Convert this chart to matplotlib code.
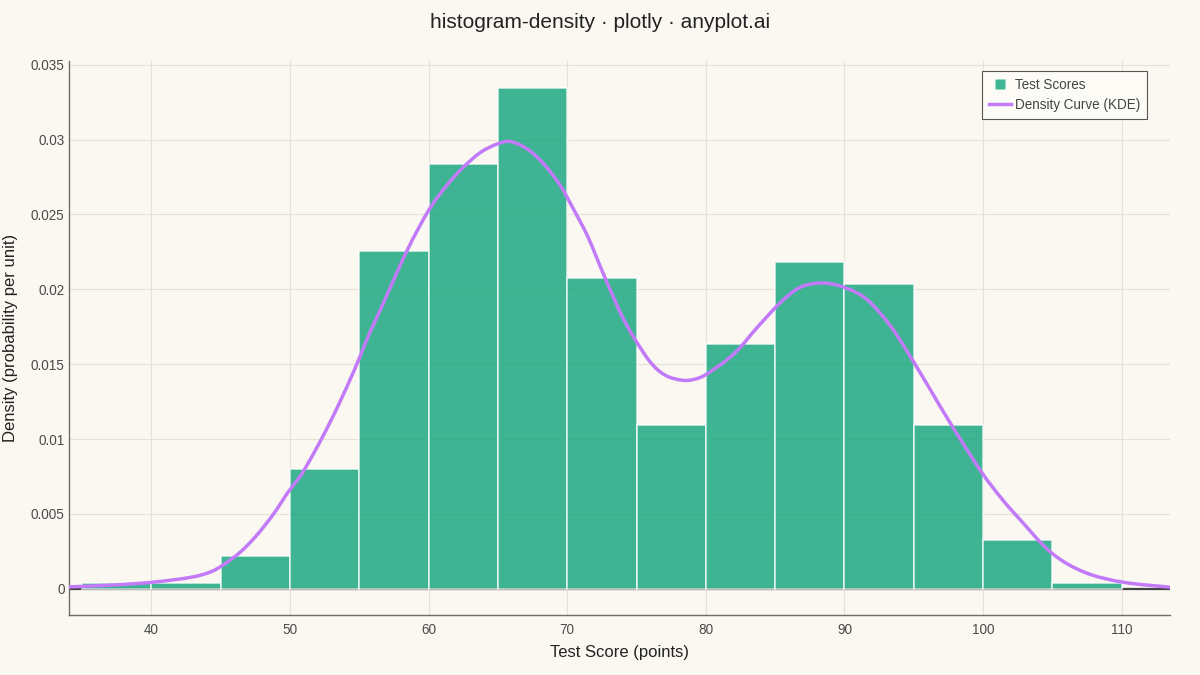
import matplotlib
matplotlib.use("Agg")
import matplotlib.pyplot as plt
from matplotlib.lines import Line2D
from matplotlib.path import Path
from matplotlib.patches import PathPatch
import numpy as np

# ---- data ----
bin_edges = [35, 40, 45, 50, 55, 60, 65, 70, 75, 80, 85, 90, 95, 100, 105, 110]
bin_counts = [1, 1, 6, 22, 62, 78, 92, 57, 30, 45, 60, 56, 30, 9, 1]
n_total = 550

kde_x = [34.03, 37.0, 40.0, 42.8, 44.24, 45.2, 46.41, 47.62, 48.82, 49.78, 50.5,
         50.98, 52.19, 53.4, 54.6, 55.2, 55.8, 56.5, 58.45, 60.0, 61.3, 62.5,
         63.75, 64.96, 65.9, 67.1, 68.3, 69.5, 70.5, 71.5, 72.6, 73.87, 74.83,
         76.03, 77.1, 78.3, 79.2, 80.13, 82.05, 83.74, 85.43, 86.87, 88.56, 90.25,
         91.69, 93.37, 95.06, 96.5, 97.95, 99.87, 101.32, 102.5, 104.94, 107.34,
         110.1, 113.49]
kde_y = [0.00013, 0.00024, 0.00043, 0.00076, 0.00112, 0.00161, 0.00245, 0.0036,
         0.00501, 0.00635, 0.00723, 0.00787, 0.00987, 0.01209, 0.01453, 0.01587,
         0.0172, 0.0186, 0.0226, 0.02527, 0.02693, 0.02815, 0.02915, 0.02971,
         0.02987, 0.02938, 0.02838, 0.02693, 0.02527, 0.02349, 0.02105, 0.01838,
         0.01675, 0.0151, 0.01425, 0.01393, 0.01400, 0.01438, 0.01571, 0.01749,
         0.01916, 0.02016, 0.02042, 0.02004, 0.01927, 0.01749, 0.01505, 0.01282,
         0.0106, 0.00782, 0.00605, 0.0048, 0.0024, 0.0011, 0.00044, 0.00011]

x_ticks = [40, 50, 60, 70, 80, 90, 100, 110]
y_ticks = [0, 0.005, 0.01, 0.015, 0.02, 0.025, 0.03, 0.035]
y_tick_labels = ["0", "0.005", "0.01", "0.015", "0.02", "0.025", "0.03", "0.035"]

title = "histogram-density · plotly · anyplot.ai"
x_label = "Test Score (points)"
y_label = "Density (probability per unit)"
series_names = ["Test Scores", "Density Curve (KDE)"]

# ---- style ----
BG = "#FAF8F1"
BAR = "#009E73"
LINE = "#C27AF8"
GRID = "#E6E2D9"
AXIS = "#6E6E6E"
TEXT = "#222222"
TICK = "#4A4A4A"

plt.rcParams['font.family'] = ['Liberation Sans', 'DejaVu Sans']


def smooth_path(xs, ys):
    """Catmull-Rom rendering of the line through the given points (cubic Bezier path)."""
    p = np.column_stack([xs, ys]).astype(float)
    ext = np.vstack([p[0], p, p[-1]])
    verts = [tuple(p[0])]
    codes = [Path.MOVETO]
    for i in range(1, len(ext) - 2):
        p0, p1, p2, p3 = ext[i - 1], ext[i], ext[i + 1], ext[i + 2]
        c1 = p1 + (p2 - p0) / 6.0
        c2 = p2 - (p3 - p1) / 6.0
        verts += [tuple(c1), tuple(c2), tuple(p2)]
        codes += [Path.CURVE4] * 3
    return Path(verts, codes)


fig = plt.figure(figsize=(12, 6.75), dpi=100, facecolor=BG)
ax = fig.add_axes([68.7 / 1200, 1 - 615 / 675, (1170 - 68.7) / 1200, (615 - 60.7) / 675])
ax.set_facecolor(BG)

edges = np.array(bin_edges, dtype=float)
widths = np.diff(edges)
density = np.array(bin_counts) / (n_total * widths)

ax.axhline(0, color="#444444", lw=1.6, zorder=1)
ax.bar(edges[:-1], density, width=widths, align="edge", color=BAR, alpha=0.75,
       edgecolor="white", linewidth=1.2, zorder=2)
ax.add_patch(PathPatch(smooth_path(kde_x, kde_y), facecolor="none", edgecolor=LINE,
                       lw=2.5, zorder=3, capstyle="round", joinstyle="round"))

ax.set_xlim(34.03, 113.49)
ax.set_ylim(-0.00175, 0.03527)
ax.set_xticks(x_ticks)
ax.set_xticklabels([str(t) for t in x_ticks])
ax.set_yticks(y_ticks)
ax.set_yticklabels(y_tick_labels)
ax.tick_params(axis="both", length=0, labelsize=9.75, labelcolor=TICK)
ax.tick_params(axis="x", pad=6)
ax.tick_params(axis="y", pad=3)
ax.grid(True, color=GRID, lw=0.8, zorder=0)
ax.set_axisbelow(True)
for s in ["top", "right"]:
    ax.spines[s].set_visible(False)
for s in ["left", "bottom"]:
    ax.spines[s].set_color(AXIS)
    ax.spines[s].set_linewidth(1.0)

fig.text(0.5, 1 - 23 / 675, title, ha="center", va="center", fontsize=15, color=TEXT)
fig.text(619.3 / 1200, 1 - 652 / 675, x_label, ha="center", va="center", fontsize=12, color=TEXT)
fig.text(11 / 1200, 1 - 338 / 675, y_label, ha="center", va="center", rotation=90,
         fontsize=12, color=TEXT)

handles = [
    Line2D([0], [0], marker="s", linestyle="none", markersize=6.5, markerfacecolor=BAR,
           markeredgecolor="none", alpha=0.75),
    Line2D([0], [0], color=LINE, lw=2.5),
]
leg = ax.legend(handles, series_names, loc="upper right",
                bbox_to_anchor=(0.9794, 0.9809), borderaxespad=0, fontsize=9.75,
                frameon=True, fancybox=False, framealpha=1, handlelength=1.65,
                handletextpad=0.3, borderpad=0.5, labelspacing=0.45)
leg.get_frame().set_edgecolor("#555555")
leg.get_frame().set_facecolor("#FDFBF6")
leg.get_frame().set_linewidth(0.8)
for t in leg.get_texts():
    t.set_color("#444444")

fig.savefig("out.png", dpi=100, facecolor=BG)
